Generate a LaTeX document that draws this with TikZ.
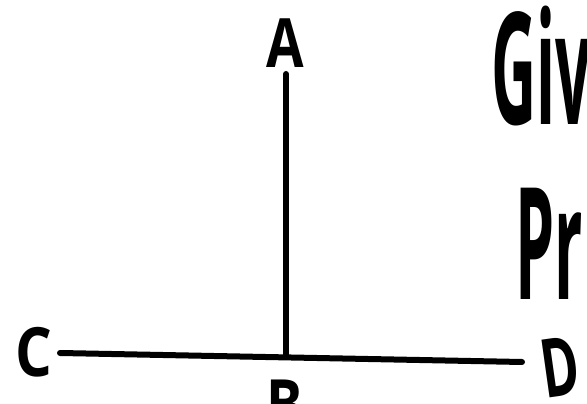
\documentclass[tikz,border=0pt]{standalone}
\usepackage{fontspec}
\setmainfont{Open Sans}

\begin{document}
\begin{tikzpicture}[x=1pt,y=1pt,line width=6pt,line cap=round,
  lbl/.style={font=\bfseries\fontsize{68}{68}\selectfont,inner sep=0pt},
  big/.style={font=\bfseries\fontsize{156}{156}\selectfont,inner sep=0pt,anchor=west}]
\useasboundingbox (0,0) rectangle (587,404);
\clip (0,0) rectangle (587,404);

\coordinate (top) at (286,330);
\coordinate (foot) at (286,47);
\coordinate (left) at (60,51);
\coordinate (right) at (522,42);

\draw (top) -- (foot);
\draw (left) -- (right);

\node[lbl] (a) at (285,361) {\scalebox{0.8}[1]{A}};
\node[lbl] (c) at (34,52) {\scalebox{0.85}[1]{C}};
\node[lbl,rotate=8] (d) at (560,37) {\scalebox{0.75}[1.2]{D}};
\node[lbl] (b) at (285,0) {\scalebox{0.8}[1]{B}};

\node[big] (given) at (488,338) {\scalebox{0.4}[1]{Giv}};
\node[big] (prove) at (512,160) {\scalebox{0.4}[1]{Pr}};
\end{tikzpicture}
\end{document}
